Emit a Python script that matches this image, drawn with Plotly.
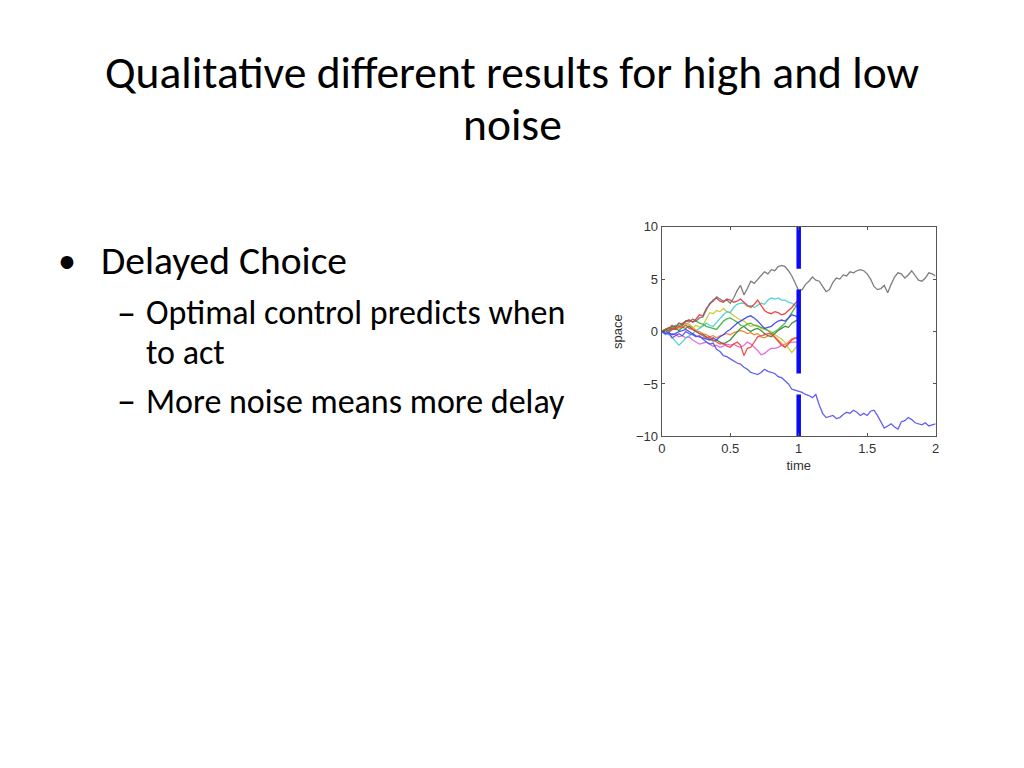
import numpy as np
import plotly.graph_objects as go

# ---------------- data ----------------
dt = 0.025
title_lines = ["Qualitative different results for high and low", "noise"]
bullet_main = "Delayed Choice"
bullet_subs = [["Optimal control predicts when", "to act"], ["More noise means more delay"]]

x_ticks = [0, 0.5, 1, 1.5, 2]
y_ticks = [-10, -5, 0, 5, 10]
x_label = "time"
y_label = "space"

# long trajectories (t = 0 .. 2)
grey_path = [0, 0.2, 0.1, 0.5, 0.4, 0.8, 0.6, 1.0, 0.9, 1.2,
             1.0, 1.3, 1.4, 2.0, 2.7, 2.9, 3.3, 3.1, 2.9, 3.0,
             2.7, 3.2, 3.9, 4.4, 3.5, 4.1, 4.8, 4.6, 5.0, 5.4,
             5.7, 5.5, 5.9, 5.8, 6.2, 6.3, 6.2, 5.8, 5.3, 4.6,
             3.9, 4.0, 4.5, 4.8, 5.2, 4.9, 4.8, 4.3, 3.8, 4.0,
             4.7, 5.1, 5.0, 5.4, 5.3, 5.7, 5.6, 5.8, 5.9, 5.8,
             5.5, 5.0, 4.3, 4.0, 4.1, 4.4, 3.7, 4.5, 5.2, 5.6,
             5.5, 5.1, 5.4, 5.8, 5.3, 4.9, 4.8, 5.1, 5.6, 5.5, 5.3]
blue_path = [0, -0.2, -0.1, -0.6, -0.4, -0.2, -0.4, 0.0, -0.2, -0.3,
             -0.5, -0.4, -0.7, -1.0, -1.2, -1.1, -1.7, -1.9, -2.3, -2.4,
             -2.6, -2.8, -3.0, -3.1, -3.4, -3.6, -3.9, -4.0, -4.1, -3.9,
             -3.6, -3.8, -3.9, -4.0, -4.3, -4.4, -4.7, -5.0, -5.5, -5.6,
             -5.7, -5.8, -6.0, -6.1, -6.3, -6.0, -7.0, -7.8, -8.2, -8.1,
             -8.0, -8.3, -8.2, -7.9, -7.7, -7.8, -7.5, -7.7, -8.0, -7.8,
             -8.0, -7.6, -7.5, -8.0, -8.6, -9.2, -9.0, -8.8, -9.1, -9.3,
             -8.6, -8.5, -8.2, -8.4, -8.7, -8.8, -8.9, -8.7, -9.0, -8.9, -8.8]

# short trajectories (t = 0 .. 1)
red_upper = [0, 0.2, 0.3, 0.6, 0.4, 0.8, 0.7, 1.0, 1.1, 0.9, 1.2, 1.6, 1.5, 2.2, 2.6, 3.0, 3.2, 2.9, 2.8, 3.1,
             3.0, 2.8, 2.9, 3.1, 2.8, 2.5, 2.3, 2.6, 3.0, 2.5, 2.0, 1.8, 1.7, 1.9, 1.8, 1.6, 1.7, 2.0, 2.3, 2.7, 3.0]
cyan_path = [0, -0.3, -0.2, -0.6, -0.9, -1.3, -1.0, -0.6, -0.4, -0.2, 0.1, 0.3, 0.5, 0.8, 0.6, 0.5, 0.9, 1.3, 1.6, 1.9,
             1.8, 2.3, 2.6, 2.7, 2.7, 2.4, 2.5, 2.3, 2.5, 2.7, 2.6, 3.0, 3.2, 3.1, 3.2, 3.0, 3.0, 2.8, 2.7, 2.5, 2.4]
yellow_path = [0, 0.1, 0.3, 0.2, 0.4, 0.3, 0.5, 0.7, 0.5, 0.3, 0.6, 0.4, 0.6, 1.2, 1.8, 1.7, 2.0, 1.9, 2.2, 1.9,
               1.8, 1.5, 1.3, 1.1, 1.0, 0.7, 0.5, 0.6, 0.6, 0.3, 0.2, 0.1, 0.0, -0.3, -0.5, -0.7, -1.0, -1.6, -2.0, -1.6, -1.2]
green_path = [0, 0.2, 0.4, 0.3, 0.6, 0.5, 0.8, 1.0, 1.1, 0.9, 1.0, 0.8, 0.7, 0.5, 0.4, 0.3, 0.2, 0.6, 1.0, 1.2,
              1.3, 1.1, 0.9, 0.6, 0.5, 0.7, 0.8, 0.6, 0.5, 0.4, 0.3, 0.1, -0.2, 0.0, 0.2, 0.5, 0.8, 1.3, 1.8, 2.3, 2.8]
darkgreen_path = [0, 0.1, -0.1, 0.2, 0.3, 0.1, 0.4, 0.3, 0.5, 0.2, 0.0, -0.2, -0.3, -0.5, -0.7, -0.9, -0.8, -1.0, -1.2, -1.0,
                  -0.8, -0.4, 0.0, 0.3, 0.5, 0.2, 0.0, 0.2, 0.3, 0.1, -0.2, -0.4, -0.5, -0.2, 0.1, 0.3, 0.5, 0.4, 0.8, 1.0, 1.2]
blue_short = [0, -0.2, -0.1, -0.3, -0.2, 0.0, 0.1, 0.2, 0.0, -0.2, -0.4, -0.5, -0.6, -0.7, -0.8, -0.6, -0.8, -0.5, -0.3, 0.0,
              0.2, 0.5, 0.8, 1.0, 1.2, 1.4, 1.5, 1.3, 1.0, 0.6, 0.3, 0.4, 0.5, 0.8, 1.0, 1.1, 1.0, 1.3, 1.6, 1.5, 1.3]
magenta_path = [0, -0.1, -0.3, -0.2, -0.3, -0.5, -0.4, -0.6, -0.5, -0.8, -1.0, -1.2, -1.1, -1.0, -1.2, -1.4, -1.3, -1.5, -1.4, -1.2,
                -1.3, -1.2, -1.4, -1.5, -1.3, -1.0, -1.2, -1.5, -1.8, -2.2, -2.1, -1.8, -1.6, -1.6, -1.5, -1.3, -1.2, -1.1, -1.0, -1.0, -1.0]
red_lower = [0, 0.2, 0.1, 0.3, 0.2, 0.5, 0.4, 0.6, 0.3, 0.2, 0.0, -0.2, -0.4, -0.6, -0.5, -0.8, -1.0, -1.2, -1.1, -1.4,
             -1.5, -1.2, -1.0, -1.3, -2.3, -1.6, -1.5, -1.0, -0.5, -0.4, -0.3, -0.2, -0.2, -0.6, -1.0, -1.3, -1.5, -1.2, -0.8, -0.6, -0.7]
orange_path = [0, 0.1, 0.3, 0.2, 0.2, 0.4, 0.6, 0.8, 0.7, 0.4, 0.1, 0.0, -0.2, -0.3, -0.5, -0.4, -0.6, -0.4, -0.3, -0.2,
               -0.3, -0.1, 0.0, 0.1, 0.0, -0.2, -0.1, -0.3, -0.2, -0.5, -0.6, -0.4, -0.3, -0.5, -0.8, -1.2, -1.5, -1.0, -0.7, -0.6, -0.5]

# decision barrier at t = 1 (segments low..high)
barrier_time = 1.0
barrier_segments = [(6, 10), (-4, 4), (-10, -6)]

# ---------------- figure ----------------
OFF = 8                      # page offset of the figure div
W, H = 1024 - 2 * OFF, 768 - 2 * OFF
def px(x):
    return (x - OFF) / W
def py(y):
    return 1 - (y - OFF) / H

series = [
    (magenta_path, "#e060e0"),
    (orange_path, "#f08030"),
    (yellow_path, "#c8c830"),
    (cyan_path, "#40d0d0"),
    (darkgreen_path, "#308830"),
    (green_path, "#40b040"),
    (blue_short, "#4040f0"),
    (red_lower, "#f04040"),
    (red_upper, "#f03030"),
    (blue_path, "#5050f0"),
    (grey_path, "#707070"),
]

fig = go.Figure()
for vals, col in series:
    t = np.round(np.arange(len(vals)) * dt, 4)
    fig.add_trace(go.Scatter(x=t, y=vals, mode="lines",
                             line=dict(color=col, width=1.3), opacity=0.9,
                             hoverinfo="skip", showlegend=False))

bx, by = [], []
for lo, hi in barrier_segments:
    bx += [barrier_time, barrier_time, None]
    by += [lo, hi, None]
fig.add_trace(go.Scatter(x=bx, y=by, mode="lines", line=dict(color="#0a0af5", width=4.5),
                         hoverinfo="skip", showlegend=False))

tick_font = dict(family="Liberation Sans, Arial, sans-serif", size=13, color="#333333")
axis_common = dict(showgrid=False, zeroline=False, showline=True, linecolor="#555555", linewidth=1.2,
                   mirror="ticks", ticks="inside", ticklen=3, tickcolor="#555555", tickfont=tick_font)
fig.update_layout(
    width=W, height=H, paper_bgcolor="white", plot_bgcolor="white",
    margin=dict(l=0, r=0, t=0, b=0),
    xaxis=dict(domain=[px(663), px(939)], range=[0, 2], tickvals=x_ticks,
               ticktext=[f"{v:g}" for v in x_ticks],
               title=dict(text=x_label, standoff=5, font=tick_font),
               **axis_common),
    yaxis=dict(domain=[py(438), py(224)], range=[-10, 10], tickvals=y_ticks,
               title=dict(text=y_label, standoff=10, font=tick_font),
               **axis_common),
)

font_txt = "Carlito, Calibri, Open Sans, sans-serif"
ann = []
for i, line in enumerate(title_lines):
    ann.append(dict(text=line, x=px(512), y=py([67, 120][i]), xref="paper", yref="paper",
                    xanchor="center", yanchor="middle", showarrow=False,
                    font=dict(family=font_txt, size=45.5, color="#000000")))
ann.append(dict(text="•", x=px(52), y=py(259), xref="paper", yref="paper", xanchor="left", yanchor="middle",
                showarrow=False, font=dict(family=font_txt, size=36, color="#000000")))
ann.append(dict(text=bullet_main, x=px(96), y=py(259), xref="paper", yref="paper", xanchor="left", yanchor="middle",
                showarrow=False, font=dict(family=font_txt, size=39.5, color="#000000")))
sub_y = [[312, 352], [402]]
for sub, ys in zip(bullet_subs, sub_y):
    ann.append(dict(text="–", x=px(112), y=py(ys[0]), xref="paper", yref="paper", xanchor="left", yanchor="middle",
                    showarrow=False, font=dict(family=font_txt, size=38, color="#000000")))
    for line, yy in zip(sub, ys):
        ann.append(dict(text=line, x=px(141), y=py(yy), xref="paper", yref="paper", xanchor="left",
                        yanchor="middle", showarrow=False,
                        font=dict(family=font_txt, size=34, color="#000000")))
fig.update_layout(annotations=ann)

fig.write_html("out.html")
